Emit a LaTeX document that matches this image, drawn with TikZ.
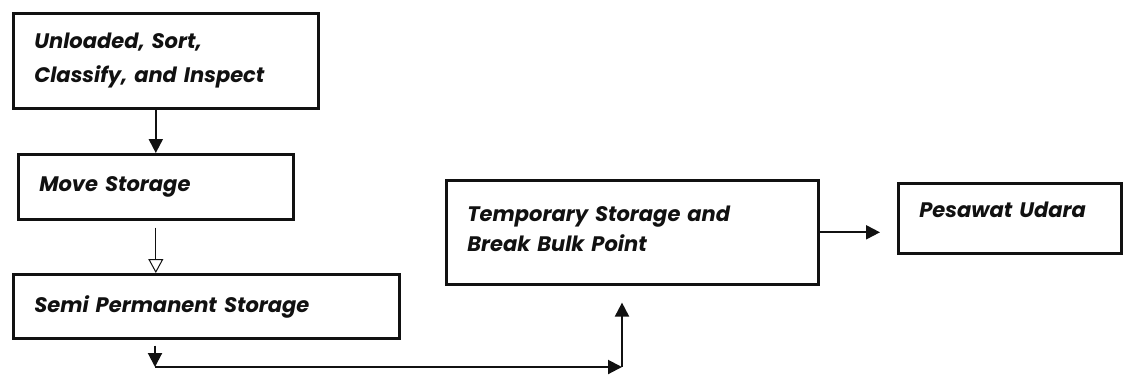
\documentclass[tikz,border=0pt]{standalone}
\usepackage{fontspec}
\setmainfont{Poppins}
\usepackage{xcolor}
\usepackage{tikz}
\usetikzlibrary{arrows.meta,positioning,calc}
\definecolor{CGInk}  {HTML}{111111}
\definecolor{CGPaper}{HTML}{FFFFFF}

\begin{document}
\begin{tikzpicture}[x=0.5pt,y=-0.5pt,
    stepbox/.style={draw=CGInk,line width=1.3pt,anchor=north west,align=left,
      inner xsep=10.5pt,inner ysep=0pt,text=CGInk,
      font=\fontsize{10.5}{15}\selectfont\bfseries\itshape},
    flow/.style={draw=CGInk,line width=1pt,-{Triangle[length=7pt,width=7pt]}},
    thinflow/.style={draw=CGInk,line width=0.5pt,-{Triangle[open,length=7pt,width=7.5pt]}}]
    \fill[CGPaper](0,0) rectangle (1127,377);
    % boxes
    \node[stepbox,text width=131.5pt,minimum height=47.5pt,
      font=\fontsize{10.5}{17}\selectfont\bfseries\itshape] (unload) at (12,12)
      {Unloaded, Sort,\\Classify, and Inspect};
    \node[stepbox,text width=116.5pt,minimum height=32.5pt] (move) at (17,153)
      {Move Storage};
    \node[stepbox,text width=172pt,minimum height=32pt,text depth=2pt] (semi) at (12,273)
      {Semi Permanent Storage};
    \node[stepbox,text width=165pt,minimum height=52pt,text depth=19pt] (temp) at (445,179)
      {Temporary Storage and\\Break Bulk Point};
    \node[stepbox,text width=90.5pt,minimum height=35pt,text depth=9pt] (plane) at (897,182)
      {Pesawat Udara};
    % route along the bottom
    \coordinate (bendA) at (155,367);
    \coordinate (bendB) at (622,367);
    % connectors
    \draw[flow] (move.north |- unload.south) -- (move.north);
    \draw[thinflow,shorten <=3.5pt] (move.south) -- (move.south |- semi.north);
    \draw[flow,shorten <=3pt] (semi.south -| bendA) -- (bendA);
    \draw[flow] (bendA) -- (bendB);
    \draw[flow,shorten >=8.5pt] (bendB) -- (bendB |- temp.south);
    \draw[flow,shorten >=8.5pt] (temp.east) -- (temp.east -| plane.west);
  \end{tikzpicture}
\end{document}
